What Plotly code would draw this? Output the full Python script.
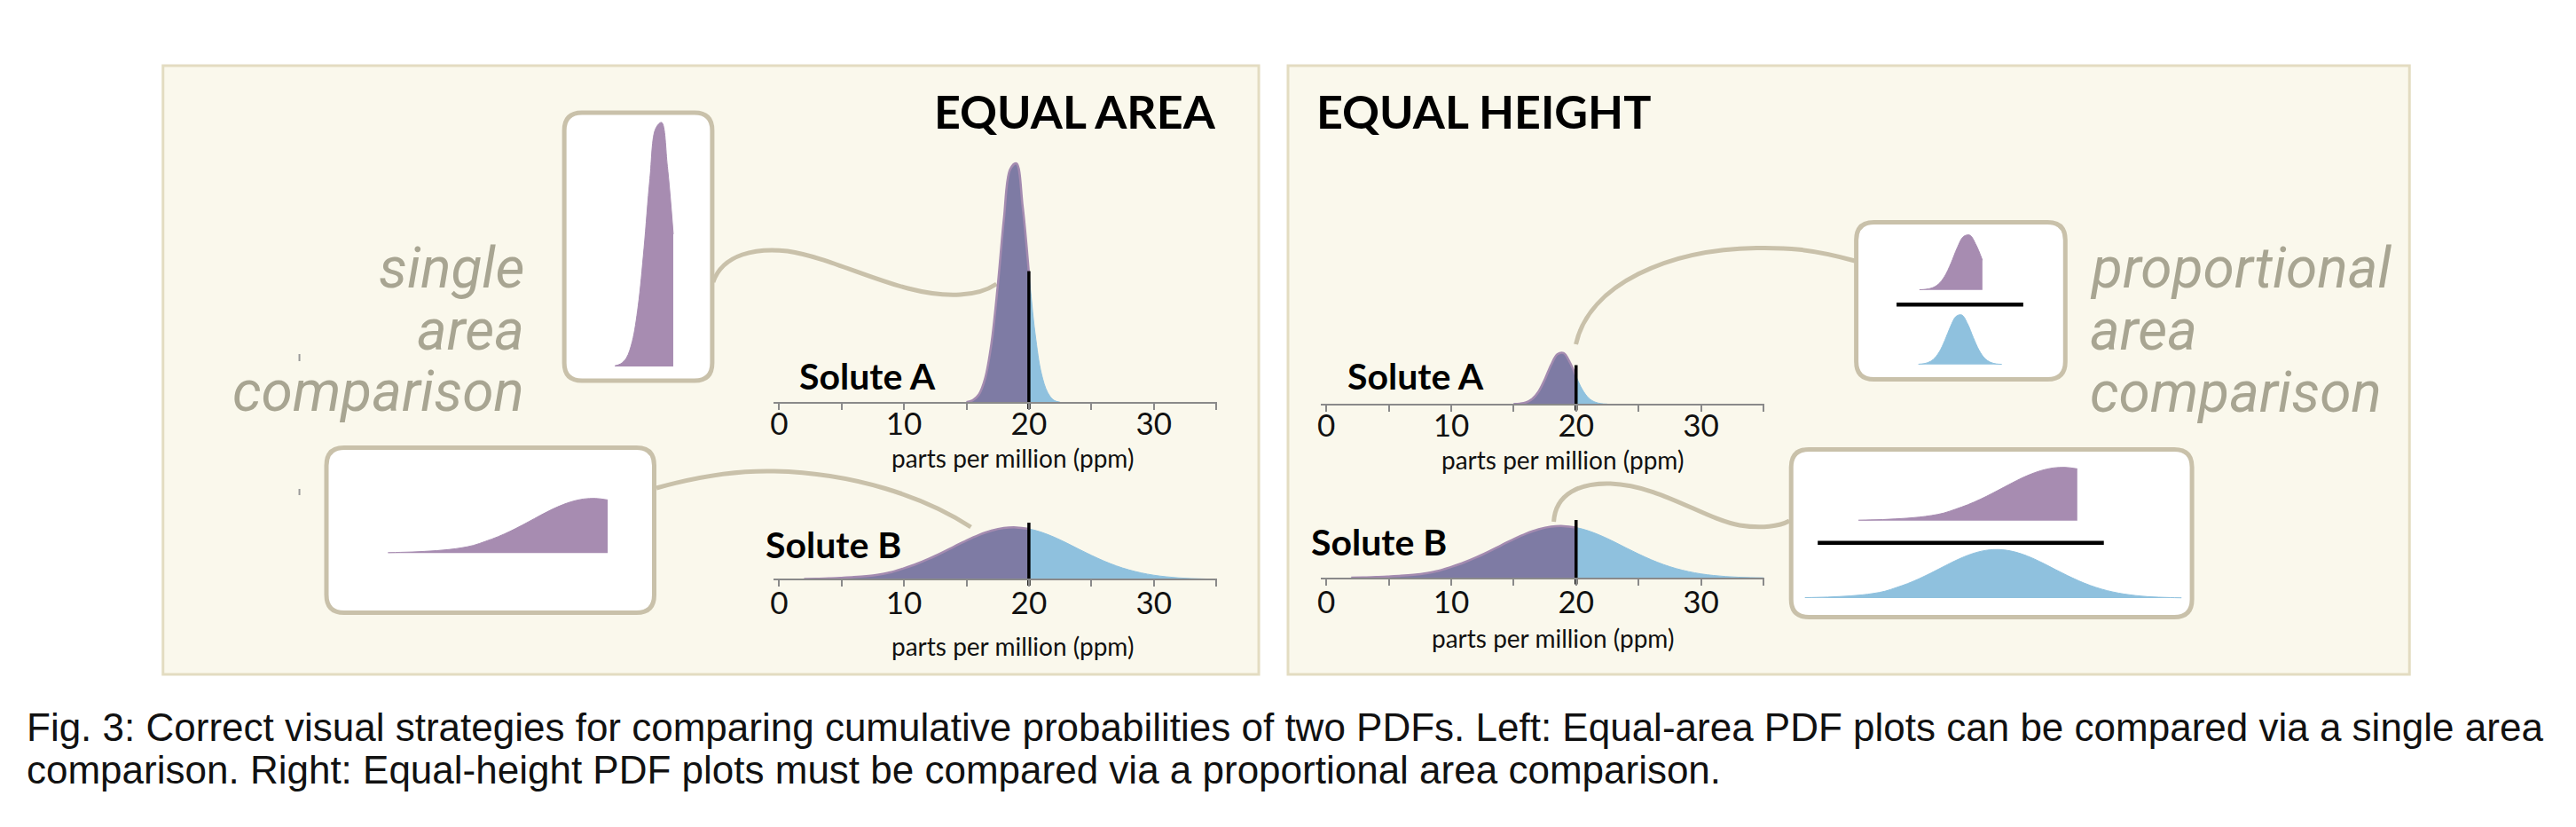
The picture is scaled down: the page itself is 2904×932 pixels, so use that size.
import plotly.graph_objects as go

PAGE_W, PAGE_H = 2904, 932
OFF = 8                      # default page margin of the html body
W, H = PAGE_W - 2 * OFF, PAGE_H - 2 * OFF

# ---------------- data ----------------
ppm_a = [15.0, 15.5, 16.0, 16.5, 17.0, 17.5, 18.0, 18.5, 19.0, 19.5, 20.0, 20.5, 21.0, 21.5, 22.0, 22.5]
density_a = [0.001, 0.004, 0.013, 0.038, 0.091, 0.178, 0.282, 0.358, 0.367, 0.301, 0.199, 0.106, 0.045,
             0.016, 0.004, 0.001]

ppm_b = [2, 3, 4, 5, 6, 7, 8, 9, 10, 11, 12, 13, 14, 15, 16, 17, 18, 19, 20, 21, 22, 23, 24, 25, 26, 27,
         28, 29, 30, 31, 32, 33, 34, 35]
density_b = [0.0007, 0.0011, 0.0016, 0.0025, 0.0036, 0.0052, 0.0076, 0.0112, 0.0172, 0.0238, 0.0317,
             0.0407, 0.0503, 0.0598, 0.0682, 0.0748, 0.0788, 0.0797, 0.0775, 0.0724, 0.0650, 0.0561,
             0.0464, 0.0370, 0.0283, 0.0208, 0.0147, 0.0100, 0.0065, 0.0041, 0.0024, 0.0014, 0.0008,
             0.0004]

threshold_ppm = 20
marker_top_equal_area = [0.202, 0.087]     # Solute A, Solute B
marker_top_equal_height = [0.280, 0.089]   # Solute A, Solute B

tick_vals = [0, 5, 10, 15, 20, 25, 30, 35]
tick_text = ["0", "", "10", "", "20", "", "30", ""]

panel_titles = ["EQUAL AREA", "EQUAL HEIGHT"]
solute_labels = ["Solute A", "Solute B"]
axis_title = "parts per million (ppm)"
left_words = ["single", "area", "comparison"]
right_words = ["proportional", "area", "comparison"]
caption_lines = [
    "Fig. 3: Correct visual strategies for comparing cumulative probabilities of two PDFs. "
    "Left: Equal-area PDF plots can be compared via a single area",
    "comparison. Right: Equal-height PDF plots must be compared via a proportional area comparison.",
]

# ---------------- styling ----------------
BLUE = "#8fc1de"
OVERLAP = "#7e7ba4"
PURPLE_EDGE = "#a48bb0"
PURPLE = "#a78cb1"
BEIGE = "#c9c1aa"
PANEL_BG = "#faf8ec"
PANEL_LINE = "#e3dcc1"
GRAY_TEXT = "#a8a592"
AXIS_GRAY = "#8a8a8a"


def left_of(xs, ys, cut):
    px, py = [], []
    for x, y in zip(xs, ys):
        if x <= cut:
            px.append(x)
            py.append(y)
    return px, py


def fx(px):
    return (px - OFF) / W


def fy(py):
    return 1 - (py - OFF) / H


def P(px, py):
    return f"{fx(px):.6f},{fy(py):.6f}"


def lin(d0, p0, d1, p1, p):
    return d0 + (p - p0) * (d1 - d0) / (p1 - p0)


fig = go.Figure()
layout_axes = {}
axis_count = [0]


def new_axes():
    axis_count[0] += 1
    n = axis_count[0]
    return (("x" if n == 1 else f"x{n}"), ("y" if n == 1 else f"y{n}"),
            ("xaxis" if n == 1 else f"xaxis{n}"), ("yaxis" if n == 1 else f"yaxis{n}"))


def main_chart(xs, ys, x_zero_px, axis_px, scale, marker_top, standoff):
    xr, yr, xk, yk = new_axes()
    ppu = 14.1
    dom0, dom1 = x_zero_px - 5.9, x_zero_px - 5.9 + 500
    below, above = 9, 300
    layout_axes[xk] = dict(domain=[fx(dom0), fx(dom1)],
                           range=[(dom0 - x_zero_px) / ppu, (dom1 - x_zero_px) / ppu],
                           anchor="free", position=fy(axis_px), showline=True, linecolor=AXIS_GRAY,
                           linewidth=2, ticks="outside", ticklen=7, tickwidth=2, tickcolor=AXIS_GRAY,
                           tickmode="array", tickvals=tick_vals, ticktext=tick_text,
                           ticklabelstandoff=standoff,
                           tickfont=dict(family="Lato", size=35, color="#111"),
                           showgrid=False, zeroline=False, fixedrange=True)
    layout_axes[yk] = dict(domain=[fy(axis_px + below), fy(axis_px - above)],
                           range=[-below / scale, above / scale], visible=False, fixedrange=True,
                           anchor=xr)
    fig.add_trace(go.Scatter(x=xs, y=ys, mode="lines", fill="tozeroy", fillcolor=BLUE,
                             line=dict(color=BLUE, width=1, shape="spline"), xaxis=xr, yaxis=yr,
                             hoverinfo="skip", showlegend=False))
    lx, ly = left_of(xs, ys, threshold_ppm)
    fig.add_trace(go.Scatter(x=lx, y=ly, mode="lines", fill="tozeroy", fillcolor=OVERLAP,
                             line=dict(color=PURPLE_EDGE, width=2.5, shape="spline"), xaxis=xr, yaxis=yr,
                             hoverinfo="skip", showlegend=False))
    fig.add_trace(go.Scatter(x=[threshold_ppm, threshold_ppm], y=[-7 / scale, marker_top], mode="lines",
                             line=dict(color="black", width=3.5), xaxis=xr, yaxis=yr,
                             hoverinfo="skip", showlegend=False))


def inset(xs, ys, color, d0, p0, d1, p1, y_bottom_px, y_top_px, pad=4):
    xr, yr, xk, yk = new_axes()
    ymax = max(ys)
    dom0, dom1 = p0 - pad, p1 + pad
    layout_axes[xk] = dict(domain=[fx(dom0), fx(dom1)],
                           range=[lin(d0, p0, d1, p1, dom0), lin(d0, p0, d1, p1, dom1)],
                           visible=False, fixedrange=True, anchor=yr)
    yb, yt = y_bottom_px + pad, y_top_px - pad
    layout_axes[yk] = dict(domain=[fy(yb), fy(yt)],
                           range=[lin(0, y_bottom_px, ymax, y_top_px, yb),
                                  lin(0, y_bottom_px, ymax, y_top_px, yt)],
                           visible=False, fixedrange=True, anchor=xr)
    fig.add_trace(go.Scatter(x=xs, y=ys, mode="lines", fill="tozeroy", fillcolor=color,
                             line=dict(color=color, width=1, shape="spline"), xaxis=xr, yaxis=yr,
                             hoverinfo="skip", showlegend=False))


# ---------------- main charts ----------------
SCALE = 735.0
main_chart(ppm_a, density_a, 875.5, 454, SCALE, marker_top_equal_area[0], -14)
main_chart(ppm_b, density_b, 875.5, 653, SCALE, marker_top_equal_area[1], -11)
main_chart(ppm_a, density_a, 1493.2, 455.5, 157.0, marker_top_equal_height[0], -14)
main_chart(ppm_b, density_b, 1493.2, 651.5, SCALE, marker_top_equal_height[1], -11)

# ---------------- inset charts ----------------
la_x, la_y = left_of(ppm_a, density_a, threshold_ppm)
lb_x, lb_y = left_of(ppm_b, density_b, threshold_ppm)
inset(la_x, la_y, PURPLE, 15.3, 694, 20, 756, 413, 138)
inset(lb_x, lb_y, PURPLE, 2, 434, 20, 682, 623.3, 561.7)
inset(la_x, la_y, PURPLE, 15.2, 2165.7, 20, 2233.9, 326.7, 265)
inset(ppm_a, density_a, BLUE, 15.5, 2165.7, 22.2, 2252, 410.7, 355)
inset(lb_x, lb_y, PURPLE, 2, 2094, 20, 2341, 586.7, 526.7)
inset(ppm_b, density_b, BLUE, 2, 2033.6, 35, 2458.6, 674, 619.3)

# ---------------- decorative shapes ----------------
shapes = []
for x0, x1 in [(180, 1417), (1450, 2716)]:
    shapes.append(dict(type="rect", xref="paper", yref="paper", x0=fx(x0), x1=fx(x1),
                       y0=fy(760), y1=fy(74), fillcolor=PANEL_BG,
                       line=dict(color=PANEL_LINE, width=3), layer="below"))


def rrect(x0, y0, x1, y1, r):
    return ("M " + P(x0 + r, y0) + " L " + P(x1 - r, y0) + " Q " + P(x1, y0) + " " + P(x1, y0 + r) +
            " L " + P(x1, y1 - r) + " Q " + P(x1, y1) + " " + P(x1 - r, y1) +
            " L " + P(x0 + r, y1) + " Q " + P(x0, y1) + " " + P(x0, y1 - r) +
            " L " + P(x0, y0 + r) + " Q " + P(x0, y0) + " " + P(x0 + r, y0) + " Z")


for b in [(633, 127, 800, 429), (364.5, 504.5, 734.5, 690.5), (2091.5, 250.5, 2327.5, 427.5),
          (2018, 506.5, 2470.5, 695.5)]:
    shapes.append(dict(type="path", xref="paper", yref="paper", path=rrect(*b, 20),
                       fillcolor="white", line=dict(color=BEIGE, width=5), layer="below"))

connectors = [
    [(801, 318), (812, 286), (850, 279), (885, 283), (945, 292), (1015, 336), (1080, 332),
     (1100, 331), (1112, 326), (1121, 320)],
    [(737, 550), (790, 535), (830, 530), (870, 531), (960, 533), (1040, 560), (1092, 594)],
    [(2090, 294), (2040, 280), (2010, 279), (1979, 279.5), (1880, 281), (1790, 320), (1775, 388)],
    [(1750, 588), (1752, 556), (1780, 544), (1814, 545), (1870, 547), (1920, 585), (1960, 592),
     (1985, 596), (2005, 593), (2016, 587)],
]
for pts in connectors:
    path = "M " + P(*pts[0])
    for i in range(1, len(pts), 3):
        path += " C " + P(*pts[i]) + " " + P(*pts[i + 1]) + " " + P(*pts[i + 2])
    shapes.append(dict(type="path", xref="paper", yref="paper", path=path,
                       line=dict(color=BEIGE, width=5), layer="below"))

for x0, x1, y in [(2137, 2280, 343.3), (2048, 2371, 611.7)]:
    shapes.append(dict(type="line", xref="paper", yref="paper", x0=fx(x0), x1=fx(x1),
                       y0=fy(y), y1=fy(y), line=dict(color="black", width=4.5)))
for y0, y1 in [(399, 407), (551, 558)]:
    shapes.append(dict(type="line", xref="paper", yref="paper", x0=fx(334), x1=fx(334),
                       y0=fy(y0), y1=fy(y1), line=dict(color="#9a9a9a", width=2)))

# ---------------- text ----------------
ann = []


def text(t, x, y, size, family="Lato", color="#111", xanchor="left", weight="normal", style="normal"):
    ann.append(dict(text=t, x=fx(x), y=fy(y), xref="paper", yref="paper", showarrow=False,
                    xanchor=xanchor, yanchor="middle", align="left",
                    font=dict(family=family, size=size, color=color, weight=weight, style=style)))


text(panel_titles[0], 1371, 125, 52, weight="bold", xanchor="right", color="#000")
text(panel_titles[1], 1480, 125, 52, weight="bold", color="#000")
text(solute_labels[0], 896.5, 423, 41, weight="bold", color="#000")
text(solute_labels[1], 858, 613, 41, weight="bold", color="#000")
text(solute_labels[0], 1515, 424, 41, weight="bold", color="#000")
text(solute_labels[1], 1474, 610.5, 41, weight="bold", color="#000")
text(axis_title, 1139, 516.5, 28, xanchor="center")
text(axis_title, 1139, 728, 28, xanchor="center")
text(axis_title, 1760, 517.5, 28, xanchor="center")
text(axis_title, 1749, 719, 28, xanchor="center")
IT = 64
for word, base in zip(left_words, [327, 397, 466]):
    text(word, 590, base - 0.342 * IT - 3, IT, family="Roboto", color=GRAY_TEXT, xanchor="right",
         style="italic")
for word, base in zip(right_words, [327, 397, 467]):
    text(word, 2353, base - 0.342 * IT - 3, IT, family="Roboto", color=GRAY_TEXT, xanchor="left",
         style="italic")
for line, yc in zip(caption_lines, [819, 867]):
    text(line, 24, yc, 44, family="Liberation Sans", color="#111")

fig.update_layout(width=W, height=H, margin=dict(l=0, r=0, t=0, b=0), autosize=False,
                  paper_bgcolor="white", plot_bgcolor="rgba(0,0,0,0)", showlegend=False,
                  shapes=shapes, annotations=ann, **layout_axes)

fig.write_html("out.html")
